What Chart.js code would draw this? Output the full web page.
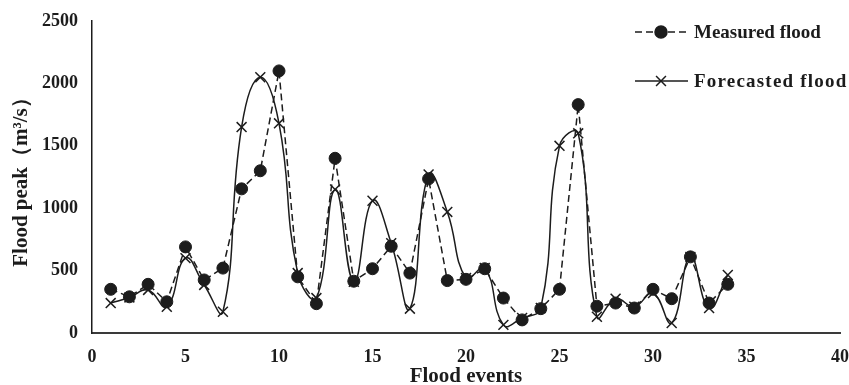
<!DOCTYPE html>
<html>
<head>
<meta charset="utf-8">
<script src="https://cdn.jsdelivr.net/npm/chart.js@4/dist/chart.umd.min.js"></script>
<style>
  html, body { margin: 0; padding: 0; background: #ffffff; }
  #wrap { width: 849px; height: 385px; position: relative; }
</style>
</head>
<body>
<div id="wrap"><canvas id="c"></canvas></div>
<script>
// ---- data ----
const floodEvents = [1,2,3,4,5,6,7,8,9,10,11,12,13,14,15,16,17,18,19,20,21,22,23,24,25,26,27,28,29,30,31,32,33,34];
const measuredFlood = [350,290,390,250,690,425,520,1155,1300,2100,450,235,1400,415,515,695,480,1235,420,430,515,280,105,195,350,1830,215,240,200,350,275,610,240,390];
const forecastedFlood = [240,285,345,210,600,385,170,1650,2050,1680,480,280,1150,410,1060,720,195,1270,970,440,520,65,120,200,1500,1600,130,275,210,320,80,610,200,465];
const xTicks = [0,5,10,15,20,25,30,35,40];
const yTicks = [0,500,1000,1500,2000,2500];
const seriesNames = ['Measured flood', 'Forecasted flood'];
const xTitle = 'Flood events';
const yTitle = 'Flood peak（m³/s）';

const INK = '#1c1c1c';
const FONT = '"Liberation Serif", "Times New Roman", serif';

const measuredPts = floodEvents.map((e, i) => ({ x: e, y: measuredFlood[i] }));
const forecastPts = floodEvents.map((e, i) => ({ x: e, y: forecastedFlood[i] }));

// custom legend drawn inside the plot, with line + marker samples
const legendPlugin = {
  id: 'sideLegend',
  afterDraw(chart) {
    const ctx = chart.ctx;
    const rows = [
      { ds: chart.data.datasets[0], y: 32, spacing: '0px' },
      { ds: chart.data.datasets[1], y: 81, spacing: '1.2px' }
    ];
    ctx.save();
    rows.forEach(r => {
      const ds = r.ds;
      ctx.strokeStyle = INK;
      ctx.fillStyle = INK;
      ctx.lineWidth = 1.5;
      ctx.setLineDash(ds.borderDash || []);
      ctx.beginPath();
      ctx.moveTo(635, r.y);
      ctx.lineTo(688, r.y);
      ctx.stroke();
      ctx.setLineDash([]);
      Chart.helpers.drawPoint(ctx, {
        pointStyle: ds.pointStyle,
        radius: ds.pointRadius,
        borderWidth: ds.pointBorderWidth
      }, 661, r.y);
      ctx.fillStyle = INK;
      ctx.font = 'bold 19px ' + FONT;
      if ('letterSpacing' in ctx) ctx.letterSpacing = r.spacing;
      ctx.textBaseline = 'middle';
      ctx.textAlign = 'left';
      ctx.fillText(ds.label, 694, r.y + 1);
    });
    ctx.restore();
  }
};

new Chart(document.getElementById('c'), {
  type: 'line',
  data: {
    datasets: [
      {
        label: seriesNames[0],
        data: measuredPts,
        borderColor: INK,
        backgroundColor: INK,
        borderWidth: 1.5,
        borderDash: [7, 4],
        tension: 0,
        pointStyle: 'circle',
        pointRadius: 6,
        pointBackgroundColor: INK,
        pointBorderColor: INK,
        pointBorderWidth: 1,
        order: 0
      },
      {
        label: seriesNames[1],
        data: forecastPts,
        borderColor: INK,
        backgroundColor: INK,
        borderWidth: 1.5,
        tension: 0.45,
        pointStyle: 'crossRot',
        pointRadius: 7,
        pointBorderColor: INK,
        pointBorderWidth: 1.5,
        order: 1
      }
    ]
  },
  options: {
    responsive: true,
    maintainAspectRatio: false,
    animation: false,
    events: [],
    layout: { padding: { top: 21, right: 9, left: 0, bottom: 0 } },
    plugins: {
      legend: { display: false },
      tooltip: { enabled: false }
    },
    scales: {
      x: {
        type: 'linear',
        min: 0, max: 40,
        afterBuildTicks(scale) { scale.ticks = xTicks.map(v => ({ value: v })); },
        afterFit(scale) { scale.height = 52; scale.paddingRight = 0; scale.paddingLeft = 0; },
        grid: { display: false },
        border: { display: true, color: '#3a3a3a', width: 2 },
        ticks: { color: INK, padding: 6, callback: v => String(v), font: { family: FONT, size: 18, weight: 'bold' } },
        title: { display: true, text: xTitle, color: INK, padding: { top: 0, bottom: -4 }, font: { family: FONT, size: 21, weight: 'bold' } }
      },
      y: {
        min: 0, max: 2500,
        afterBuildTicks(scale) { scale.ticks = yTicks.map(v => ({ value: v })); },
        afterFit(scale) { scale.width = 92; scale.paddingTop = 0; scale.paddingBottom = 0; },
        grid: { display: false },
        border: { display: true, color: INK, width: 1.5 },
        ticks: { color: INK, padding: 6, callback: v => String(v), font: { family: FONT, size: 18, weight: 'bold' } },
        title: { display: true, text: yTitle, color: INK, padding: { top: 9, bottom: 2 }, font: { family: FONT, size: 21, weight: 'bold' } }
      }
    }
  },
  plugins: [legendPlugin]
});
</script>
</body>
</html>
